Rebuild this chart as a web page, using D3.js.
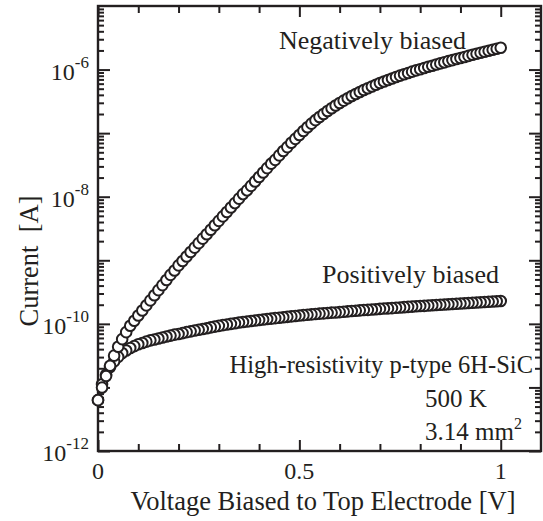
<!DOCTYPE html>
<html>
<head>
<meta charset="utf-8">
<script src="https://cdn.jsdelivr.net/npm/d3@7"></script>
<style>
	body { margin: 0; background: #fff; }
	text { font-family: "Liberation Serif", "Times New Roman", serif; fill: #231f20; }
</style>
</head>
<body>
<svg id="chart" width="543" height="521"></svg>
<script>

// voltage sweep [V]
var voltages = [
	0.00, 0.01, 0.02, 0.03, 0.04, 0.05, 0.06, 0.07, 0.08, 0.09,
	0.10, 0.11, 0.12, 0.13, 0.14, 0.15, 0.16, 0.17, 0.18, 0.19,
	0.20, 0.21, 0.22, 0.23, 0.24, 0.25, 0.26, 0.27, 0.28, 0.29,
	0.30, 0.31, 0.32, 0.33, 0.34, 0.35, 0.36, 0.37, 0.38, 0.39,
	0.40, 0.41, 0.42, 0.43, 0.44, 0.45, 0.46, 0.47, 0.48, 0.49,
	0.50, 0.51, 0.52, 0.53, 0.54, 0.55, 0.56, 0.57, 0.58, 0.59,
	0.60, 0.61, 0.62, 0.63, 0.64, 0.65, 0.66, 0.67, 0.68, 0.69,
	0.70, 0.71, 0.72, 0.73, 0.74, 0.75, 0.76, 0.77, 0.78, 0.79,
	0.80, 0.81, 0.82, 0.83, 0.84, 0.85, 0.86, 0.87, 0.88, 0.89,
	0.90, 0.91, 0.92, 0.93, 0.94, 0.95, 0.96, 0.97, 0.98, 0.99,
	1.00
];

// current [A], negatively biased electrode
var negCurrent = [
	6.31e-12, 1.00e-11, 1.51e-11, 2.19e-11, 3.16e-11, 4.37e-11, 5.75e-11, 7.41e-11, 9.33e-11, 1.12e-10,
	1.35e-10, 1.62e-10, 1.95e-10, 2.34e-10, 2.82e-10, 3.39e-10, 4.07e-10, 4.90e-10, 5.89e-10, 6.92e-10,
	8.32e-10, 9.77e-10, 1.15e-9, 1.35e-9, 1.58e-9, 1.86e-9, 2.19e-9, 2.57e-9, 3.02e-9, 3.55e-9,
	4.17e-9, 4.90e-9, 5.75e-9, 6.76e-9, 7.94e-9, 9.33e-9, 1.10e-8, 1.26e-8, 1.48e-8, 1.74e-8,
	2.04e-8, 2.40e-8, 2.82e-8, 3.31e-8, 3.80e-8, 4.47e-8, 5.25e-8, 6.03e-8, 7.08e-8, 8.13e-8,
	9.33e-8, 1.08e-7, 1.24e-7, 1.41e-7, 1.60e-7, 1.79e-7, 2.00e-7, 2.23e-7, 2.47e-7, 2.72e-7,
	2.98e-7, 3.25e-7, 3.53e-7, 3.83e-7, 4.13e-7, 4.45e-7, 4.76e-7, 5.09e-7, 5.43e-7, 5.78e-7,
	6.14e-7, 6.50e-7, 6.87e-7, 7.24e-7, 7.64e-7, 8.04e-7, 8.43e-7, 8.85e-7, 9.27e-7, 9.70e-7,
	1.01e-6, 1.06e-6, 1.11e-6, 1.15e-6, 1.20e-6, 1.25e-6, 1.30e-6, 1.36e-6, 1.41e-6, 1.47e-6,
	1.52e-6, 1.58e-6, 1.64e-6, 1.71e-6, 1.77e-6, 1.84e-6, 1.91e-6, 1.98e-6, 2.05e-6, 2.13e-6,
	2.21e-6
];

// current [A], positively biased electrode
var posCurrent = [
	6.31e-12, 1.12e-11, 1.58e-11, 2.09e-11, 2.57e-11, 3.02e-11, 3.47e-11, 3.80e-11, 4.17e-11, 4.47e-11,
	4.79e-11, 5.01e-11, 5.25e-11, 5.50e-11, 5.69e-11, 5.89e-11, 6.10e-11, 6.31e-11, 6.53e-11, 6.76e-11,
	6.92e-11, 7.16e-11, 7.41e-11, 7.62e-11, 7.85e-11, 8.07e-11, 8.30e-11, 8.55e-11, 8.80e-11, 9.05e-11,
	9.30e-11, 9.55e-11, 9.77e-11, 1.00e-10, 1.02e-10, 1.05e-10, 1.07e-10, 1.09e-10, 1.11e-10, 1.13e-10,
	1.15e-10, 1.17e-10, 1.19e-10, 1.21e-10, 1.23e-10, 1.25e-10, 1.27e-10, 1.29e-10, 1.31e-10, 1.33e-10,
	1.35e-10, 1.37e-10, 1.39e-10, 1.41e-10, 1.43e-10, 1.45e-10, 1.46e-10, 1.48e-10, 1.50e-10, 1.51e-10,
	1.53e-10, 1.55e-10, 1.57e-10, 1.59e-10, 1.61e-10, 1.63e-10, 1.65e-10, 1.66e-10, 1.68e-10, 1.70e-10,
	1.72e-10, 1.74e-10, 1.75e-10, 1.77e-10, 1.79e-10, 1.81e-10, 1.83e-10, 1.85e-10, 1.87e-10, 1.89e-10,
	1.91e-10, 1.92e-10, 1.94e-10, 1.96e-10, 1.98e-10, 2.00e-10, 2.02e-10, 2.03e-10, 2.05e-10, 2.07e-10,
	2.09e-10, 2.11e-10, 2.13e-10, 2.15e-10, 2.17e-10, 2.19e-10, 2.21e-10, 2.23e-10, 2.25e-10, 2.27e-10,
	2.29e-10
];

// axis ticks
var xMajorTicks = [0, 0.5, 1];
var xMinorTicks = [0.1, 0.2, 0.3, 0.4, 0.6, 0.7, 0.8, 0.9];
var xTickLabels = ["0", "0.5", "1"];
var yDecades = [1e-12, 1e-11, 1e-10, 1e-9, 1e-8, 1e-7, 1e-6];
var yMinorMultipliers = [2, 3, 4, 5, 6, 7, 8, 9];
var yLabelExponents = [-12, -10, -8, -6];

var svg = d3.select("#chart");

var plotLeft = 98, plotRight = 541, plotTop = 6, plotBottom = 451;
var ink = "#231f20";

var x = d3.scaleLinear().domain([0, 1.1]).range([plotLeft, plotRight]);
var y = d3.scaleLog().domain([1e-12, 1e-5]).range([plotBottom, plotTop]);

// 1. frame
svg.append("rect")
	.attr("x", plotLeft)
	.attr("y", plotTop)
	.attr("width", plotRight - plotLeft)
	.attr("height", plotBottom - plotTop)
	.attr("fill", "none")
	.attr("stroke", ink)
	.attr("stroke-width", 2.4);

// 2. minor y ticks: 2..9 x each decade
var yMinor = [];
yDecades.forEach(function(d) {
	yMinorMultipliers.forEach(function(m) { yMinor.push(d * m); });
});

// 3. inward ticks on all four sides with d3 axes (labels drawn separately)
function tickAxis(axis, tx, ty) {
	var g = svg.append("g")
		.attr("transform", "translate(" + tx + "," + ty + ")")
		.call(axis.tickFormat(""));
	g.select(".domain").remove();
	g.selectAll(".tick text").remove();
	g.selectAll(".tick line")
		.attr("stroke", ink)
		.attr("stroke-width", 2);
}

tickAxis(d3.axisBottom(x).tickValues(xMinorTicks).tickSize(-7), 0, plotBottom);
tickAxis(d3.axisBottom(x).tickValues(xMajorTicks).tickSize(-11), 0, plotBottom);
tickAxis(d3.axisTop(x).tickValues(xMinorTicks).tickSize(-7), 0, plotTop);
tickAxis(d3.axisTop(x).tickValues(xMajorTicks).tickSize(-11), 0, plotTop);
tickAxis(d3.axisLeft(y).tickValues(yMinor).tickSize(-6), plotLeft, 0);
tickAxis(d3.axisLeft(y).tickValues(yDecades).tickSize(-12), plotLeft, 0);
tickAxis(d3.axisRight(y).tickValues(yMinor).tickSize(-6), plotRight, 0);
tickAxis(d3.axisRight(y).tickValues(yDecades).tickSize(-12), plotRight, 0);

// 4. tick labels
svg.selectAll("text.xlabel")
	.data(xMajorTicks)
	.enter()
	.append("text")
	.attr("class", "xlabel")
	.attr("x", function(d) { return x(d); })
	.attr("y", 479)
	.attr("text-anchor", "middle")
	.attr("font-size", 24)
	.text(function(d, i) { return xTickLabels[i]; });

var yLabels = svg.selectAll("text.ylabel")
	.data(yLabelExponents)
	.enter()
	.append("text")
	.attr("class", "ylabel")
	.attr("x", 89)
	.attr("y", function(d) { return y(Math.pow(10, d)) + 10; })
	.attr("text-anchor", "end")
	.attr("font-size", 24);
yLabels.append("tspan").text("10");
yLabels.append("tspan")
	.attr("dy", -12)
	.attr("font-size", 17)
	.text(function(d) { return String(d); });

// 5. axis titles
svg.append("text")
	.attr("x", 323)
	.attr("y", 510)
	.attr("text-anchor", "middle")
	.attr("font-size", 26.5)
	.text("Voltage Biased to Top Electrode [V]");

svg.append("text")
	.attr("transform", "translate(38,261) rotate(-90)")
	.attr("text-anchor", "middle")
	.attr("font-size", 26.5)
	.attr("xml:space", "preserve")
	.style("white-space", "pre")
	.text("Current  [A]");

// 6. data points: open circles, later circles cover earlier ones
function drawSeries(values, reverse) {
	var pts = voltages.map(function(v, i) { return [v, values[i]]; });
	if (reverse) pts.reverse();
	svg.append("g")
		.selectAll("circle")
		.data(pts)
		.enter()
		.append("circle")
		.attr("cx", function(d) { return x(d[0]); })
		.attr("cy", function(d) { return y(d[1]); })
		.attr("r", 5.3)
		.attr("fill", "#fff")
		.attr("stroke", ink)
		.attr("stroke-width", 2);
}

drawSeries(posCurrent, true);
drawSeries(negCurrent, false);

// 7. annotations
svg.append("text")
	.attr("x", 466)
	.attr("y", 49)
	.attr("text-anchor", "end")
	.attr("font-size", 26)
	.text("Negatively biased");

svg.append("text")
	.attr("x", 499)
	.attr("y", 283)
	.attr("text-anchor", "end")
	.attr("font-size", 26)
	.text("Positively biased");

svg.append("text")
	.attr("x", 533)
	.attr("y", 373)
	.attr("text-anchor", "end")
	.attr("font-size", 24.5)
	.text("High-resistivity p-type 6H-SiC");

svg.append("text")
	.attr("x", 425)
	.attr("y", 407)
	.attr("font-size", 25)
	.text("500 K");

var area = svg.append("text")
	.attr("x", 425)
	.attr("y", 440)
	.attr("font-size", 25);
area.append("tspan").text("3.14 mm");
area.append("tspan")
	.attr("dy", -11)
	.attr("font-size", 16)
	.text("2");

</script>
</body>
</html>
